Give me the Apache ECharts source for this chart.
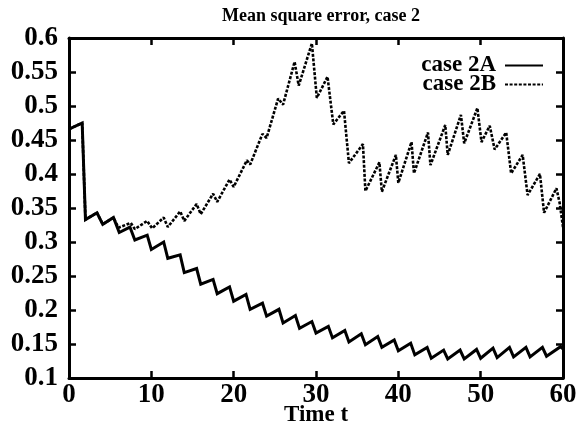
<!DOCTYPE html>
<html>
<head>
<meta charset="utf-8">
<script src="https://cdn.jsdelivr.net/npm/echarts@6/dist/echarts.min.js"></script>
<style>
  html, body { margin: 0; padding: 0; background: #fff; }
  #chart { width: 582px; height: 428px; }
</style>
</head>
<body>
<div id="chart"></div>
<script>
// Mean square error over time, two runs of case 2
const seriesNames = ['case 2A', 'case 2B'];
const xTicks = [0, 10, 20, 30, 40, 50, 60];

const timeA = [0, 1.6, 2.0, 3.4, 4.1, 5.4, 6.1, 7.4, 8.0, 9.5, 10.0, 11.5, 12.0, 13.5, 14.0,
  15.5, 16.0, 17.5, 18.0, 19.5, 20.0, 21.5, 22.0, 23.5, 24.0, 25.5, 26.0, 27.5, 28.0, 29.5,
  30.0, 31.5, 32.0, 33.5, 34.0, 35.5, 36.0, 37.5, 38.0, 39.5, 40.0, 41.5, 42.0, 43.5, 44.0,
  45.5, 46.0, 47.5, 48.0, 49.5, 50.0, 51.5, 52.0, 53.5, 54.0, 55.5, 56.0, 57.5, 58.0, 59.7, 60];
const mseA = [0.466, 0.475, 0.333, 0.343, 0.326, 0.336, 0.314, 0.322, 0.303, 0.310, 0.289, 0.300, 0.276, 0.281, 0.255,
  0.261, 0.238, 0.245, 0.224, 0.234, 0.213, 0.223, 0.201, 0.210, 0.191, 0.201, 0.181, 0.192, 0.173, 0.183,
  0.166, 0.176, 0.159, 0.170, 0.153, 0.165, 0.149, 0.161, 0.145, 0.156, 0.140, 0.151, 0.134, 0.145, 0.129,
  0.141, 0.128, 0.141, 0.128, 0.142, 0.129, 0.144, 0.130, 0.145, 0.131, 0.145, 0.131, 0.145, 0.132, 0.146, 0.143];

const timeB = [0, 1.6, 2.0, 3.4, 4.1, 5.4, 6.0, 7.5, 8.0, 9.5, 10.1, 11.5, 12.0, 13.5, 14.0,
  15.5, 16.0, 17.5, 18.0, 19.5, 20.0, 21.6, 22.0, 23.5, 24.0, 25.4, 26.0, 27.4, 27.9, 29.5,
  30.1, 31.4, 32.1, 33.4, 34.0, 35.7, 36.0, 37.7, 38.0, 39.7, 40.0, 41.6, 41.9, 43.6, 43.9,
  45.7, 46.0, 47.6, 48.0, 49.6, 50.1, 51.1, 51.7, 53.1, 53.7, 55.1, 55.7, 57.2, 57.7, 59.2, 59.6, 60];
const mseB = [0.466, 0.475, 0.333, 0.343, 0.326, 0.336, 0.321, 0.328, 0.319, 0.331, 0.320, 0.336, 0.322, 0.345, 0.331,
  0.356, 0.341, 0.371, 0.359, 0.392, 0.381, 0.420, 0.414, 0.459, 0.453, 0.511, 0.502, 0.565, 0.530, 0.592,
  0.512, 0.543, 0.473, 0.493, 0.416, 0.444, 0.375, 0.417, 0.374, 0.428, 0.387, 0.447, 0.401, 0.461, 0.413,
  0.472, 0.428, 0.487, 0.445, 0.497, 0.447, 0.471, 0.436, 0.461, 0.401, 0.428, 0.369, 0.400, 0.343, 0.379, 0.357, 0.322];

const pairs = (ts, vs) => ts.map((t, i) => [t, vs[i]]);

const serif = '"Liberation Serif", "DejaVu Serif", serif';
const frame = { show: true, onZero: false, lineStyle: { color: '#000', width: 3 } };
const inTick = { show: true, inside: true, length: 7, lineStyle: { color: '#000', width: 2.5 } };
const labelFont = { color: '#000', fontFamily: serif, fontWeight: 'bold', fontSize: 27 };

const chart = echarts.init(document.getElementById('chart'), null, { renderer: 'canvas' });
chart.setOption({
  animation: false,
  backgroundColor: '#fff',
  title: {
    text: 'Mean square error, case 2',
    left: 316, top: 2, textAlign: 'center',
    textStyle: { color: '#000', fontFamily: serif, fontWeight: 'bold', fontSize: 18 }
  },
  legend: {
    orient: 'vertical', right: 33, top: 49, align: 'right',
    itemWidth: 38, itemHeight: 10, itemGap: -4,
    data: seriesNames,
    itemStyle: { opacity: 0 },
    textStyle: { color: '#000', fontFamily: serif, fontWeight: 'bold', fontSize: 23, padding: [0, 4, 0, 0] }
  },
  grid: { left: 69, right: 19, top: 38, bottom: 50, containLabel: false, outerBoundsMode: 'none' },
  xAxis: [{
    type: 'value', min: 0, max: 60, interval: 10, position: 'bottom',
    name: 'Time t', nameLocation: 'middle', nameGap: 26, nameMoveOverlap: false,
    nameTextStyle: { color: '#000', fontFamily: serif, fontWeight: 'bold', fontSize: 23 },
    axisLine: frame, axisTick: inTick, splitLine: { show: false },
    axisLabel: Object.assign({ margin: 4, formatter: v => xTicks.includes(v) ? String(v) : '' }, labelFont)
  }, {
    type: 'value', min: 0, max: 60, interval: 10, position: 'top',
    axisLine: frame, axisTick: inTick, splitLine: { show: false }, axisLabel: { show: false }
  }],
  yAxis: [{
    type: 'value', min: 0.1, max: 0.6, interval: 0.05, position: 'left',
    axisLine: frame, axisTick: inTick, splitLine: { show: false },
    axisLabel: Object.assign({ margin: 11 }, labelFont)
  }, {
    type: 'value', min: 0.1, max: 0.6, interval: 0.05, position: 'right',
    axisLine: frame, axisTick: inTick, splitLine: { show: false }, axisLabel: { show: false }
  }],
  series: [{
    name: seriesNames[0], type: 'line', data: pairs(timeA, mseA),
    symbol: 'none', z: 3,
    lineStyle: { color: '#000', width: 3, type: 'solid', join: 'miter' },
    itemStyle: { color: '#000' }
  }, {
    name: seriesNames[1], type: 'line', data: pairs(timeB, mseB),
    symbol: 'none', z: 2,
    lineStyle: { color: '#000', width: 2.6, type: [3, 1.6] },
    itemStyle: { color: '#000' }
  }]
});
</script>
</body>
</html>
